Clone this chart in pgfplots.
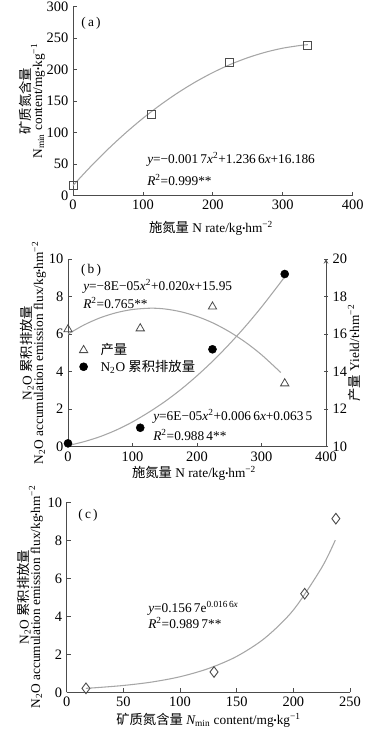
\documentclass[border=0pt]{standalone}
\usepackage{fontspec}
\setmainfont{Liberation Serif}
\newfontfamily\cjk{Noto Sans CJK SC}
\usepackage{pgfplots}
\pgfplotsset{compat=1.18}
\newcommand{\dt}{\raisebox{0.15ex}{\fontsize{6.5}{6.5}\selectfont•}}
\newcommand{\fs}{\fontsize{10}{11.5}\selectfont}
\newcommand{\ft}{\fontsize{10.8}{12}\selectfont}
\pgfplotsset{
  base/.style={scale only axis, anchor=south west,
    axis x line=bottom, axis y line=left,
    axis line style={-, black!70, line width=0.55pt},
    every tick/.style={black!70, line width=0.55pt},
    major tick length=3pt, tick align=inside,
    tick label style={font=\ft, black},
    /pgf/number format/assume math mode=true,
    clip=false},
  curve/.style={black!35, line width=0.8pt, smooth, no marks},
}
\begin{document}
\begin{tikzpicture}
\path[use as bounding box] (0pt,0pt) rectangle (284.25pt,-546.75pt);
% ---------------- (a)
\begin{axis}[base, at={(54.75pt,-146.78pt)}, width=209.78pt, height=141.75pt,
  xmin=0, xmax=400, ymin=0, ymax=300,
  xtick={0,100,200,300,400}, ytick={0,50,100,150,200,250,300}]
\addplot[curve] coordinates {(0,16.2)(25,46.0)(50,73.8)(75,99.4)(100,122.9)(125,144.2)(150,163.4)(175,180.5)(200,195.5)(225,208.4)(250,219.1)(275,227.7)(300,234.2)(325,238.5)(336,239.8)};
\addplot[only marks, mark=square, mark size=3pt, mark options={black!70, line width=0.7pt}] coordinates {(0,17)(112,129)(224,212)(336,238)};
\end{axis}
% ---------------- (b) left
\begin{axis}[base, at={(51pt,-335.03pt)}, width=193.5pt, height=140.78pt,
  xmin=0, xmax=400, ymin=0, ymax=10,
  xtick={0,100,200,300,400}, ytick={0,2,4,6,8,10}]
\addplot[curve] coordinates {(0,0.06)(25,0.27)(50,0.54)(75,0.89)(100,1.32)(125,1.83)(150,2.40)(175,3.05)(200,3.78)(225,4.58)(250,5.46)(275,6.41)(300,7.44)(325,8.55)(336,9.05)};
\addplot[only marks, mark=*, mark size=3pt, mark options={black, fill=black}] coordinates {(0,0.18)(112,1.01)(224,5.19)(336,9.2)};
\end{axis}
% ---------------- (b) right
\begin{axis}[base, at={(51pt,-335.03pt)}, width=193.5pt, height=140.78pt,
  axis x line=none, axis y line=right,
  xmin=0, xmax=400, ymin=10, ymax=20, ytick={10,12,14,16,18,20},
  legend style={at={(0.029,0.565)}, anchor=north west, draw=none, fill=none,
    font=\fs, row sep=-1.5pt, inner sep=0pt},
  legend cell align=left,
  legend image code/.code={\path (0cm,0cm) (0.57cm,0cm); \draw[mark repeat=2,mark phase=2] plot coordinates {(0cm,0cm)(0.2cm,0cm)(0.57cm,0cm)};}]
\addplot[curve, forget plot] coordinates {(0,16.00)(25,16.49)(50,16.87)(75,17.14)(100,17.31)(128,17.38)(150,17.34)(175,17.19)(200,16.94)(225,16.59)(250,16.13)(275,15.57)(300,14.90)(330,13.95)};
\addplot[only marks, mark=triangle, mark size=3.6pt, mark options={black!70, line width=0.6pt}] coordinates {(0,16.25)(112,16.3)(224,17.46)(336,13.37)};
\addlegendentry{\cjk 产量}
\addlegendimage{only marks, mark=*, mark size=3pt, mark options={black, fill=black}}
\addlegendentry{N\textsubscript{2}O {\cjk 累积排放量}}
\end{axis}
% ---------------- (c)
\begin{axis}[base, at={(50.03pt,-519.23pt)}, width=212.48pt, height=142.5pt,
  xmin=0, xmax=250, ymin=0, ymax=10,
  xtick={0,50,100,150,200,250}, ytick={0,2,4,6,8,10}]
\addplot[curve] coordinates {(17,0.21)(25,0.24)(50,0.36)(75,0.54)(100,0.82)(125,1.25)(150,1.89)(175,2.86)(200,4.33)(225,6.56)(237,8.01)};
\addplot[only marks, mark=diamond, mark size=4pt, mark options={black!70, line width=0.7pt}] coordinates {(17,0.21)(130,1.07)(210,5.19)(237.5,9.14)};
\end{axis}
% ---------------- text
\begin{scope}[x=0.75pt, y=-0.75pt, every node/.style={font=\fs, inner sep=0pt}]
% (a)
\node at (91,23) {(\,a\,)};
\node[anchor=west] at (147,159) {{\itshape y}=−0.001\,7{\itshape x}\textsuperscript{2}+1.236\,6{\itshape x}+16.186};
\node[anchor=west] at (147,180) {{\itshape R}\textsuperscript{2}=0.999**};
\node at (211,228) {{\cjk 施氮量} N rate/kg\dt hm\textsuperscript{−2}};
\node[rotate=90] at (25,101) {\cjk 矿质氮含量};
\node[rotate=90] at (38,101) {N\textsubscript{min} content/mg\dt kg\textsuperscript{−1}};
% (b)
\node at (91,270) {(\,b\,)};
\node[anchor=west] at (83,286.7) {{\itshape y}=−8E−05{\itshape x}\textsuperscript{2}+0.020{\itshape x}+15.95};
\node[anchor=west] at (83,303) {{\itshape R}\textsuperscript{2}=0.765**};
\node[anchor=west] at (153,416.7) {{\itshape y}=6E−05{\itshape x}\textsuperscript{2}+0.006\,6{\itshape x}+0.063\,5};
\node[anchor=west] at (153,435) {{\itshape R}\textsuperscript{2}=0.988\,4**};
\node at (194,473) {{\cjk 施氮量} N rate/kg\dt hm\textsuperscript{−2}};
\node[rotate=90] at (27,353) {N\textsubscript{2}O {\cjk 累积排放量}};
\node[rotate=90] at (39,353) {N\textsubscript{2}O accumulation emission flux/kg\dt hm\textsuperscript{−2}};
\node[rotate=90] at (354,353) {{\cjk 产量} Yield/t\dt hm\textsuperscript{−2}};
% (c)
\node at (88,515) {(\,c\,)};
\node[anchor=west] at (148,608) {{\itshape y}=0.156\,7e\textsuperscript{0.016\,6{\itshape x}}};
\node[anchor=west] at (148,623) {{\itshape R}\textsuperscript{2}=0.989\,7**};
\node at (208.5,720) {{\cjk 矿质氮含量} {\itshape N}\textsubscript{min} content/mg\dt kg\textsuperscript{−1}};
\node[rotate=90] at (24,597) {N\textsubscript{2}O {\cjk 累积排放量}};
\node[rotate=90] at (36,597) {N\textsubscript{2}O accumulation emission flux/kg\dt hm\textsuperscript{−2}};
\end{scope}
\end{tikzpicture}
\end{document}
